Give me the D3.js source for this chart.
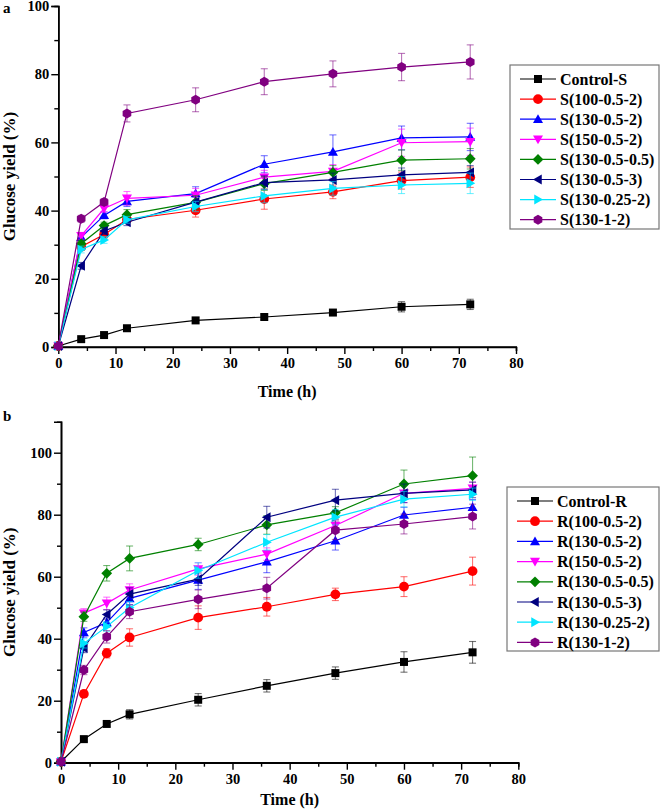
<!DOCTYPE html>
<html><head><meta charset="utf-8">
<script src="https://cdn.jsdelivr.net/npm/d3@7"></script>
<style>
body{margin:0;background:#fff;}
text{font-family:"Times New Roman","Liberation Serif",serif;font-weight:bold;fill:#000;}
</style></head>
<body><svg id="c" width="661" height="810"></svg>
<script>
const times = [0, 4, 8, 12, 24, 36, 48, 60, 72];
const xTicks = [0, 10, 20, 30, 40, 50, 60, 70, 80];
const yTicksA = [0, 20, 40, 60, 80, 100];
const yTicksB = [0, 20, 40, 60, 80, 100];

const namesA = ["Control-S","S(100-0.5-2)","S(130-0.5-2)","S(150-0.5-2)","S(130-0.5-0.5)","S(130-0.5-3)","S(130-0.25-2)","S(130-1-2)"];
const namesB = ["Control-R","R(100-0.5-2)","R(130-0.5-2)","R(150-0.5-2)","R(130-0.5-0.5)","R(130-0.5-3)","R(130-0.25-2)","R(130-1-2)"];
const colors = ["#000000","#ff0000","#0000ff","#ff00ff","#008000","#000080","#00e5ff","#800080"];
const shapes = ["square","circle","up","down","diamond","left","right","hex"];

// Panel a values
const aControl = [0.3, 2.3, 3.5, 5.5, 7.8, 8.8, 10.1, 11.8, 12.5];
const a100_05_2 = [0.3, 29.4, 33.0, 37.4, 40.1, 43.4, 45.5, 48.8, 49.8];
const a130_05_2 = [0.3, 32.2, 38.6, 42.7, 45.0, 53.6, 57.2, 61.3, 61.6];
const a150_05_2 = [0.3, 32.6, 40.6, 43.6, 44.5, 49.8, 51.5, 59.9, 60.2];
const a130_05_05 = [0.3, 30.3, 35.6, 38.8, 42.4, 47.9, 51.2, 54.8, 55.2];
const a130_05_3 = [0.3, 23.8, 34.0, 36.6, 42.5, 48.2, 49.0, 50.5, 51.2];
const a130_025_2 = [0.3, 28.6, 31.4, 37.3, 41.2, 44.3, 46.5, 47.5, 48.0];
const a130_1_2 = [0.3, 37.6, 42.5, 68.5, 72.5, 77.8, 80.1, 82.1, 83.6];
const aErr = [
  [0, 0.5, 0.5, 0.8, 0.8, 0.8, 0.8, 1.5, 1.5],
  [0, 1, 1, 1, 2, 3, 2, 2.5, 3],
  [0, 1, 1, 1.5, 2, 2.5, 5, 3.5, 4],
  [0, 1, 1, 2, 2, 2, 2, 4, 4],
  [0, 1, 1, 1.5, 2, 2, 2, 3, 3],
  [0, 1, 1, 1, 1.5, 2, 2, 2, 2],
  [0, 1, 1, 1, 1.5, 2, 2, 2.5, 3],
  [0, 1, 1, 2.5, 3.5, 3.8, 3.8, 4, 5]
];

// Panel b values
const bControl = [0.3, 7.6, 12.5, 15.6, 20.3, 24.8, 28.9, 32.5, 35.6];
const b100_05_2 = [0.3, 22.2, 35.3, 40.4, 46.8, 50.3, 54.3, 56.8, 61.8];
const b130_05_2 = [0.3, 42.0, 45.2, 53.0, 58.9, 64.8, 71.6, 79.9, 82.4];
const b150_05_2 = [0.3, 48.2, 51.4, 55.7, 62.5, 67.3, 76.5, 86.9, 88.5];
const b130_05_05 = [0.3, 47.1, 61.1, 65.9, 70.4, 76.7, 80.6, 89.9, 92.6];
const b130_05_3 = [0.3, 37.0, 47.8, 54.4, 59.2, 79.2, 84.7, 86.9, 88.0];
const b130_025_2 = [0.3, 38.5, 43.9, 50.0, 62.0, 71.1, 79.2, 85.0, 86.6];
const b130_1_2 = [0.3, 29.9, 40.6, 48.7, 52.7, 56.3, 75.0, 77.0, 79.4];
const bErr = [
  [0, 0.8, 0.8, 1.5, 2, 2, 2, 3.3, 3.5],
  [0, 1, 1.5, 2.8, 3.8, 3, 2, 3.2, 4.5],
  [0, 1.5, 1.5, 2, 3, 3.5, 3, 2.5, 2.5],
  [0, 1.5, 2, 2, 2, 2, 2, 3, 2],
  [0, 1.5, 2.5, 4, 2, 3, 2, 4.5, 6],
  [0, 1.5, 1.5, 2, 2, 3.5, 3.5, 3, 2.5],
  [0, 1.5, 1.5, 2, 2.5, 2.5, 2.5, 2.5, 2],
  [0, 1.5, 2, 2.2, 3, 3.5, 3, 3.2, 4]
];

const valsA = [aControl, a100_05_2, a130_05_2, a150_05_2, a130_05_05, a130_05_3, a130_025_2, a130_1_2];
const valsB = [bControl, b100_05_2, b130_05_2, b150_05_2, b130_05_05, b130_05_3, b130_025_2, b130_1_2];

const svg = d3.select("#c");

function markerPath(shape, r) {
  switch (shape) {
    case "square": return `M${-r},${-r}H${r}V${r}H${-r}Z`;
    case "circle": return d3.symbol(d3.symbolCircle, Math.PI * r * r * 1.5)();
    case "up": { const h = r * 1.25; return `M0,${-h}L${h},${h * 0.75}L${-h},${h * 0.75}Z`; }
    case "down": { const h = r * 1.25; return `M0,${h}L${h},${-h * 0.75}L${-h},${-h * 0.75}Z`; }
    case "diamond": { const h = r * 1.35; return `M0,${-h}L${h},0L0,${h}L${-h},0Z`; }
    case "left": { const h = r * 1.25; return `M${-h},0L${h * 0.75},${-h}L${h * 0.75},${h}Z`; }
    case "right": { const h = r * 1.25; return `M${h},0L${-h * 0.75},${-h}L${-h * 0.75},${h}Z`; }
    case "hex": { let p = ""; const h = r * 1.25; for (let i = 0; i < 6; i++) { const a = Math.PI / 6 + i * Math.PI / 3; p += (i ? "L" : "M") + (h * Math.cos(a)).toFixed(2) + "," + (h * Math.sin(a)).toFixed(2); } return p + "Z"; }
  }
}

function panel(opt) {
  const g = svg.append("g");
  const x = d3.scaleLinear().domain([0, 80]).range([opt.x0, opt.x1]);
  const y = d3.scaleLinear().domain([0, opt.ymax]).range([opt.y0, opt.y1]);

  // axes
  const xAxis = d3.axisBottom(x).tickValues(xTicks).tickSize(7).tickPadding(4).tickFormat(d3.format("d"));
  const xMinor = d3.axisBottom(x).tickValues(d3.range(5, 80, 10)).tickSize(4).tickFormat("");
  const yAxis = d3.axisLeft(y).tickValues(opt.yTicks).tickSize(7).tickPadding(2).tickFormat(d3.format("d"));
  const yMinor = d3.axisLeft(y).tickValues(d3.range(10, opt.ymax, 20)).tickSize(4).tickFormat("");

  const gx = g.append("g").attr("transform", `translate(0,${opt.y0})`).call(xAxis);
  g.append("g").attr("transform", `translate(0,${opt.y0})`).call(xMinor);
  const gy = g.append("g").attr("transform", `translate(${opt.x0},0)`).call(yAxis);
  g.append("g").attr("transform", `translate(${opt.x0},0)`).call(yMinor);
  g.selectAll(".domain").attr("stroke", "#000").attr("stroke-width", 1.6);
  g.selectAll(".tick line").attr("stroke", "#000").attr("stroke-width", 1.4);
  g.selectAll(".tick text").style("font-family", '"Times New Roman","Liberation Serif",serif').style("font-weight", "bold").style("font-size", "14.5px").attr("fill", "#000");
  gx.selectAll(".domain").remove();
  g.append("line").attr("x1", opt.x0).attr("x2", opt.x1 + 1).attr("y1", opt.y0).attr("y2", opt.y0).attr("stroke", "#000").attr("stroke-width", 1.6);

  // series
  const line = d3.line().x((d, i) => x(times[i])).y(d => y(d));
  opt.vals.forEach((vals, s) => {
    const c = colors[s];
    const sg = g.append("g");
    vals.forEach((v, i) => {
      const e = opt.err[s][i];
      if (e <= 0) return;
      const cx = x(times[i]);
      const eg = sg.append("g").attr("stroke", c).attr("stroke-opacity", 0.55).attr("stroke-width", 1.1);
      eg.append("line").attr("x1", cx).attr("x2", cx).attr("y1", y(v - e)).attr("y2", y(v + e));
      eg.append("line").attr("x1", cx - 3.5).attr("x2", cx + 3.5).attr("y1", y(v + e)).attr("y2", y(v + e));
      eg.append("line").attr("x1", cx - 3.5).attr("x2", cx + 3.5).attr("y1", y(v - e)).attr("y2", y(v - e));
    });
    sg.append("path").attr("d", line(vals)).attr("fill", "none").attr("stroke", c).attr("stroke-width", 1.2);
    sg.selectAll("path.m").data(vals).enter().append("path").attr("class", "m")
      .attr("d", markerPath(shapes[s], 4))
      .attr("transform", (d, i) => `translate(${x(times[i])},${y(d)})`)
      .attr("fill", c);
  });

  // labels
  g.append("text").attr("x", opt.letterX).attr("y", opt.letterY).style("font-size", "15px").text(opt.letter);
  g.append("text").attr("x", (opt.x0 + opt.x1) / 2).attr("y", opt.xTitleY).attr("text-anchor", "middle").style("font-size", "16px").text("Time (h)");
  g.append("text").attr("transform", `translate(15,${(opt.y0 + opt.y1) / 2}) rotate(-90)`).attr("text-anchor", "middle").style("font-size", "17px").text("Glucose yield (%)");

  // legend
  const L = opt.legend;
  g.append("rect").attr("x", L.x).attr("y", L.y).attr("width", L.w).attr("height", L.h)
    .attr("fill", "#fff").attr("stroke", "#777").attr("stroke-width", 1.2);
  opt.names.forEach((n, s) => {
    const yy = L.y + 14 + s * L.dy;
    g.append("line").attr("x1", L.x + 10).attr("x2", L.x + 46).attr("y1", yy).attr("y2", yy).attr("stroke", colors[s]).attr("stroke-width", 1.2);
    g.append("path").attr("d", markerPath(shapes[s], 4)).attr("transform", `translate(${L.x + 28},${yy})`).attr("fill", colors[s]);
    g.append("text").attr("x", L.x + 50).attr("y", yy + 5.5).style("font-size", "16px").text(n);
  });
}

panel({
  x0: 58.3, x1: 516, y0: 347, y1: 6, ymax: 100, yTicks: yTicksA,
  vals: valsA, err: aErr, names: namesA,
  letter: "a", letterX: 3, letterY: 13, xTitleY: 397,
  legend: { x: 510, y: 65, w: 149, h: 164, dy: 20.1 }
});
panel({
  x0: 61, x1: 518.3, y0: 762.7, y1: 421.7, ymax: 110, yTicks: yTicksB,
  vals: valsB, err: bErr, names: namesB,
  letter: "b", letterX: 3, letterY: 421, xTitleY: 805,
  legend: { x: 507, y: 487, w: 152, h: 164, dy: 20.2 }
});
</script></body></html>
